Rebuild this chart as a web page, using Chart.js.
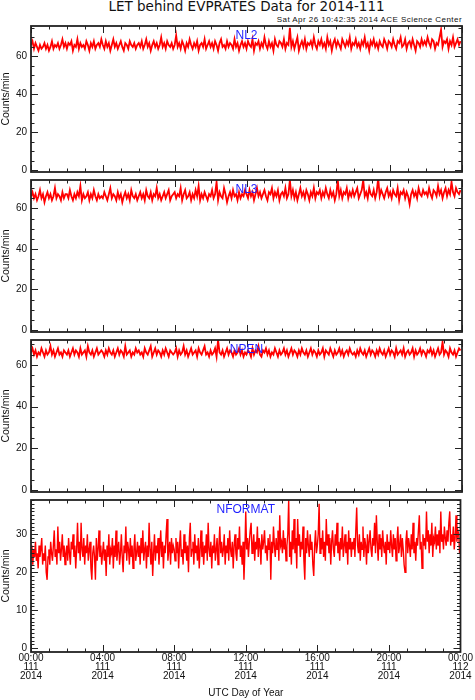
<!DOCTYPE html>
<html>
<head>
<meta charset="utf-8">
<title>LET behind EVPRATES Data for 2014-111</title>
<script src="https://cdn.jsdelivr.net/npm/chart.js@4.4.1/dist/chart.umd.min.js"></script>
<style>
  html, body { margin: 0; padding: 0; background: #fff; }
  #page { position: relative; width: 475px; height: 700px; overflow: hidden; }
  .box { position: absolute; left: 0; width: 475px; }
  #title { position: absolute; left: 31px; width: 431px; top: -2px; line-height: 16px; text-align: center;
           font-family: "DejaVu Sans"; font-size: 13.5px; color: #111; white-space: nowrap; }
  #stamp { position: absolute; right: 13px; top: 15px; line-height: 10px; letter-spacing: 0.45px;
           font-family: "Liberation Sans"; font-size: 8px; color: #111; white-space: nowrap; }
</style>
</head>
<body>
<div id="page">
  <div id="title">LET behind EVPRATES Data for 2014-111</div>
  <div id="stamp">Sat Apr 26 10:42:35 2014 ACE Science Center</div>
</div>
<script>
// rate panels: 5-minute samples, one row = 2 hours
const rateStepMinutes = 5;
// NFORMAT: 3-minute samples, one row = 2 hours
const formatStepMinutes = 3;

const nl2 = [
  66,68,64,67,65,63,66,64,65,67,64,66,63,65,68,64,66,65,67,64,66,69,65,67,
  64,67,66,68,63,66,65,69,64,67,65,66,64,68,66,63,67,65,68,64,66,67,65,69,
  66,64,68,65,67,63,66,69,65,67,64,66,68,65,63,67,66,64,68,66,65,67,64,66,
  67,65,68,64,66,69,65,67,63,66,68,65,67,64,66,70,65,67,64,68,66,65,67,64,
  66,71,65,67,64,68,66,63,67,65,69,66,64,67,65,68,63,66,67,65,69,64,66,68,
  65,67,64,68,66,63,67,69,65,66,64,68,65,67,66,64,69,65,67,63,66,68,65,67,
  64,68,66,65,69,63,67,66,68,64,67,65,70,66,64,68,65,67,63,69,66,65,68,67,
  65,69,64,67,66,75,65,68,64,67,70,63,66,68,65,69,64,67,66,68,65,70,66,64,
  68,66,69,65,67,64,70,66,68,63,67,69,65,68,66,64,69,67,65,68,66,70,64,67,
  66,69,65,67,64,68,66,70,65,67,63,68,66,69,65,67,64,68,66,65,69,67,64,68,
  67,65,69,66,64,68,67,70,65,66,69,64,67,68,65,69,66,63,68,67,65,69,66,68,
  66,70,67,65,69,68,64,67,66,70,74,65,68,67,69,64,68,66,70,65,67,69,66,68
];

const nl3 = [
  66,68,65,67,64,66,69,65,67,63,66,68,65,67,64,66,70,65,67,66,64,68,65,67,
  67,65,69,66,64,67,65,68,66,71,64,67,65,66,68,64,67,65,69,66,64,67,65,66,
  65,68,66,64,67,70,65,67,66,64,68,65,67,63,66,68,65,67,64,69,66,65,67,64,
  66,68,65,67,64,69,66,65,68,64,67,66,70,65,67,64,66,68,65,67,69,64,66,67,
  68,65,67,66,70,64,67,69,65,66,68,64,67,65,69,66,71,64,67,65,68,66,64,67,
  66,69,65,67,73,64,68,66,65,70,67,63,66,68,65,69,66,67,64,68,65,67,66,69,
  67,65,69,66,68,64,67,70,66,68,65,67,69,66,64,68,67,70,65,68,66,69,64,67,
  68,66,70,65,67,74,66,69,65,68,64,67,70,66,68,65,69,67,64,68,66,70,65,68,
  67,69,65,68,66,70,67,65,69,66,68,64,67,74,66,69,65,68,67,70,65,68,66,69,
  66,68,70,65,67,69,74,66,68,65,70,67,66,69,65,68,75,66,69,67,65,68,70,66,
  68,65,69,67,66,70,64,68,67,69,65,68,66,62,67,69,66,68,65,70,67,66,69,67,
  68,66,70,67,65,69,68,66,71,67,69,65,68,70,66,69,67,73,68,66,70,68,67,69
];

const npen = [
  66,68,65,67,64,66,65,68,66,64,67,65,66,69,65,67,64,66,68,65,66,64,67,66,
  65,67,64,66,68,65,67,66,64,68,65,66,67,64,69,66,65,67,64,66,68,65,66,67,
  66,64,67,65,68,66,65,67,64,66,68,65,67,66,64,69,65,66,67,64,66,65,68,66,
  67,65,66,64,68,66,65,67,69,64,66,68,65,67,66,64,67,65,68,66,64,67,66,65,
  66,68,64,67,65,66,69,65,67,64,66,68,65,66,67,64,68,66,65,67,69,65,66,64,
  67,65,66,68,64,72,66,65,67,64,66,68,65,67,66,64,67,65,66,68,65,67,64,66,
  65,67,66,64,68,65,67,66,69,65,64,67,66,68,65,67,64,66,65,68,66,64,67,65,
  66,68,65,67,64,66,68,65,67,66,64,67,65,68,66,65,67,64,66,68,65,67,66,64,
  67,65,66,68,64,67,66,65,68,66,64,67,65,66,68,65,67,64,66,67,65,68,66,65,
  66,64,67,65,68,66,65,67,64,66,68,65,67,66,64,67,65,68,66,65,67,64,66,68,
  65,67,66,64,68,65,66,67,65,68,64,66,67,65,66,68,64,67,65,66,68,65,67,66,
  64,67,66,68,65,67,64,66,68,65,66,71,65,67,66,64,68,66,65,67,64,66,68,67
];

const nformat = [
  25,27,22,26,24,28,23,25,21,27,24,26,29,22,25,23,27,20,18,24,26,22,28,25,23,27,31,24,26,22,32,25,28,23,26,30,24,27,22,25,
  27,23,29,25,22,28,26,30,24,27,21,26,33,25,28,23,33,26,24,29,22,27,25,30,23,26,28,21,18,25,27,24,18,29,23,26,31,24,27,22,
  25,28,23,26,19,27,24,30,22,26,25,29,21,27,24,31,23,26,28,22,25,30,24,20,27,25,32,23,28,26,22,29,24,27,21,26,30,23,25,28,
  24,27,22,29,25,31,23,26,28,21,27,24,33,26,22,28,19,25,30,23,27,25,29,22,26,31,24,28,21,27,25,30,34,23,26,28,22,29,25,27,
  26,23,29,25,28,21,27,31,24,26,22,30,25,28,23,27,20,29,33,24,26,28,22,30,25,27,23,29,21,26,31,24,28,22,27,25,30,23,33,26,
  24,28,21,27,25,30,23,26,29,22,27,32,25,28,24,26,30,22,27,25,29,23,31,26,24,28,21,27,30,25,23,29,26,32,24,27,22,28,18,25,
  36,26,29,24,28,31,33,25,27,30,23,28,26,32,24,29,27,22,30,26,28,31,25,27,23,29,26,30,18,28,25,32,27,24,29,26,31,23,35,27,
  28,25,31,26,29,23,27,30,39,24,28,22,31,26,34,25,29,21,34,27,30,24,28,26,32,23,18,29,25,31,27,24,30,26,28,22,19,27,31,25,
  27,30,38,25,29,26,31,24,28,23,34,27,30,25,29,22,28,31,26,24,30,27,33,25,28,23,29,26,32,24,27,30,25,28,22,31,26,29,24,28,
  26,29,24,31,37,27,25,30,23,28,26,32,24,29,27,22,30,25,28,31,26,24,29,27,33,25,35,28,23,30,26,29,24,31,27,25,28,22,30,26,
  28,25,31,27,24,30,26,29,23,28,32,25,27,30,24,29,26,22,20,28,31,25,29,27,24,30,26,33,25,28,23,29,27,31,35,26,28,21,30,27,
  29,26,36,28,31,25,30,27,33,24,29,28,32,26,30,27,31,25,36,28,30,26,32,29,27,31,28,33,36,27,30,28,32,26,29,35,28,31,30,25
];

const yTicksRate = [0, 20, 40, 60];
const yTicksFormat = [0, 10, 20, 30];
const xTickHours = [0, 4, 8, 12, 16, 20, 24];
const xTickLabels = [
  ['00:00', '111', '2014'], ['04:00', '111', '2014'], ['08:00', '111', '2014'],
  ['12:00', '111', '2014'], ['16:00', '111', '2014'], ['20:00', '111', '2014'],
  ['00:00', '112', '2014']
];
const yTitle = 'Counts/min';
const xTitle = 'UTC Day of Year';

const panels = [
  { name: 'NL2',     values: nl2,     step: rateStepMinutes,   lw: 1.8, top: 24,  bottom: 174, yMin: -1, yMax: 76, ticks: yTicksRate,   major: 20, minor: 5 },
  { name: 'NL3',     values: nl3,     step: rateStepMinutes,   lw: 1.8, top: 178, bottom: 334, yMin: -1, yMax: 74, ticks: yTicksRate,   major: 20, minor: 5 },
  { name: 'NPEN',    values: npen,    step: rateStepMinutes,   lw: 1.8, top: 338, bottom: 494, yMin: -1, yMax: 72, ticks: yTicksRate,   major: 20, minor: 5 },
  { name: 'NFORMAT', values: nformat, step: formatStepMinutes, lw: 1.4, top: 498, bottom: 652, yMin: -1, yMax: 39, ticks: yTicksFormat, major: 10, minor: 1 }
];

const PAD = 8;
const ink = '#111';
const font = 'Liberation Sans';

function framePlugin(p) {
  return {
    id: 'frame',
    afterDatasetsDraw(chart) {
      const { ctx, chartArea: a, scales: { x, y } } = chart;
      ctx.save();
      ctx.strokeStyle = '#222';
      ctx.lineWidth = 1;
      ctx.beginPath();
      for (let h = 0; h <= 24; h++) {
        const px = Math.round(x.getPixelForValue(h * 60)) + 0.5;
        const len = h % 4 === 0 ? 7 : 3.5;
        ctx.moveTo(px, a.bottom); ctx.lineTo(px, a.bottom - len);
        ctx.moveTo(px, a.top); ctx.lineTo(px, a.top + len);
      }
      for (let v = 0; v <= p.yMax; v += p.minor) {
        const py = Math.round(y.getPixelForValue(v)) + 0.5;
        const len = v % p.major === 0 ? 7 : 3.5;
        ctx.moveTo(a.left, py); ctx.lineTo(a.left + len, py);
        ctx.moveTo(a.right, py); ctx.lineTo(a.right - len, py);
      }
      ctx.stroke();
      ctx.lineWidth = 1.8;
      ctx.strokeRect(a.left, a.top, a.right - a.left, a.bottom - a.top);
      ctx.fillStyle = '#1f1fff';
      ctx.font = '12px "' + font + '"';
      ctx.textAlign = 'center';
      ctx.textBaseline = 'middle';
      ctx.fillText(p.name, (a.left + a.right) / 2, a.top + 10);
      ctx.restore();
    }
  };
}

const page = document.getElementById('page');
panels.forEach((p, k) => {
  const last = k === panels.length - 1;
  const boxTop = p.top - PAD;
  const boxH = last ? 700 - boxTop : (p.bottom - p.top) + 2 * PAD;
  const box = document.createElement('div');
  box.className = 'box';
  box.style.top = boxTop + 'px';
  box.style.height = boxH + 'px';
  const cv = document.createElement('canvas');
  box.appendChild(cv);
  page.appendChild(box);

  new Chart(cv, {
    type: 'line',
    data: {
      datasets: [{
        data: p.values.map((v, i) => ({ x: i * p.step, y: v })),
        borderColor: '#ff0000',
        borderWidth: p.lw,
        pointRadius: 0,
        tension: 0
      }]
    },
    options: {
      responsive: true,
      maintainAspectRatio: false,
      animation: false,
      layout: { padding: { left: 0, right: 13, top: PAD, bottom: last ? 0 : PAD } },
      plugins: { legend: { display: false }, tooltip: { enabled: false } },
      scales: {
        x: {
          type: 'linear', min: 0, max: 1440, display: last,
          afterBuildTicks: s => { s.ticks = xTickHours.map(h => ({ value: h * 60 })); },
          afterFit: s => { s.height = last ? 48 : 0; },
          grid: { display: false, drawTicks: false },
          border: { display: false },
          ticks: {
            autoSkip: false, maxRotation: 0, padding: 2, color: ink,
            font: { family: font, size: 10, lineHeight: 0.87 },
            callback: (v, i) => xTickLabels[i]
          },
          title: { display: true, text: xTitle, color: ink, font: { family: font, size: 10 }, padding: { top: 0, bottom: 1 } }
        },
        y: {
          min: p.yMin, max: p.yMax,
          afterBuildTicks: s => { s.ticks = p.ticks.map(v => ({ value: v })); },
          afterFit: s => { s.width = 31; },
          grid: { display: false, drawTicks: false },
          border: { display: false },
          ticks: { padding: 4, color: ink, font: { family: font, size: 10 } },
          title: { display: true, text: yTitle, color: ink, font: { family: font, size: 10.5 }, padding: { top: 0, bottom: 0 } }
        }
      }
    },
    plugins: [framePlugin(p)]
  });
});
</script>
</body>
</html>
